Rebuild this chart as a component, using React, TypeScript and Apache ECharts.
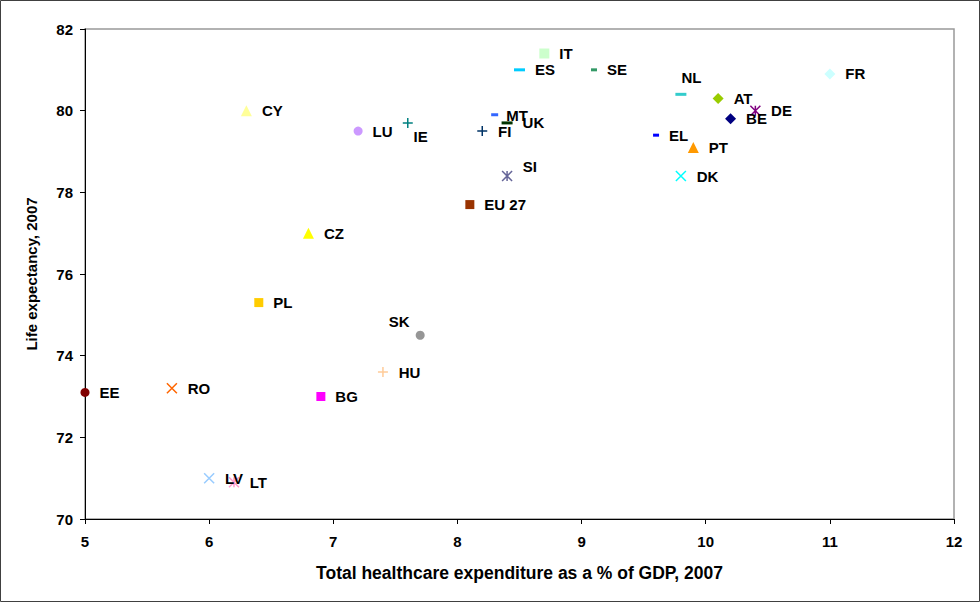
import React, { useEffect, useRef } from 'react';
import * as echarts from 'echarts';

// ---- data ----
const countries = ['IT', 'ES', 'SE', 'NL', 'AT', 'DE', 'BE', 'EL', 'PT', 'DK', 'FR', 'CY', 'LU', 'IE', 'MT', 'UK', 'FI', 'SI', 'EU 27', 'CZ', 'PL', 'SK', 'HU', 'EE', 'RO', 'BG', 'LV', 'LT'];
const healthExpenditure = [8.7, 8.5, 9.1, 9.8, 10.1, 10.4, 10.2, 9.6, 9.9, 9.8, 11.0, 6.3, 7.2, 7.6, 8.3, 8.4, 8.2, 8.4, 8.1, 6.8, 6.4, 7.7, 7.4, 5.0, 5.7, 6.9, 6.0, 6.2];
const lifeExpectancy = [81.4, 81.0, 81.0, 80.4, 80.3, 80.0, 79.8, 79.4, 79.1, 78.4, 80.9, 80.0, 79.5, 79.7, 79.9, 79.7, 79.5, 78.4, 77.7, 77.0, 75.3, 74.5, 73.6, 73.1, 73.2, 73.0, 71.0, 70.9];

const X_MIN = 5, X_MAX = 12, X_STEP = 1;
const Y_MIN = 70, Y_MAX = 82, Y_STEP = 2;

// ---- styles ----
const PLUS = 'path://M5,0L5,10M0,5L10,5';
const CROSS = 'path://M0,0L10,10M10,0L0,10';
const STAR = 'path://M0,0L10,10M10,0L0,10M5,0L5,10';

type MS = { symbol: string; size: number | number[]; color: string; line?: boolean };
const markerStyle: Record<string, MS> = {
  IT: { symbol: 'rect', size: 10, color: '#CCFFCC' },
  ES: { symbol: 'rect', size: [11, 3], color: '#00CCFF' },
  SE: { symbol: 'rect', size: [6, 3], color: '#339966' },
  NL: { symbol: 'rect', size: [11, 3], color: '#33CCCC' },
  AT: { symbol: 'diamond', size: 11, color: '#99CC00' },
  DE: { symbol: STAR, size: 10, color: '#800080', line: true },
  BE: { symbol: 'diamond', size: 11, color: '#000080' },
  EL: { symbol: 'rect', size: [6, 3], color: '#0000FF' },
  PT: { symbol: 'triangle', size: 11, color: '#FF9900' },
  DK: { symbol: CROSS, size: 10, color: '#00FFFF', line: true },
  FR: { symbol: 'diamond', size: 11, color: '#CCFFFF' },
  CY: { symbol: 'triangle', size: 11, color: '#FFFF99' },
  LU: { symbol: 'circle', size: 9, color: '#CC99FF' },
  IE: { symbol: PLUS, size: 10, color: '#008080', line: true },
  MT: { symbol: 'rect', size: [7, 3], color: '#3366FF' },
  UK: { symbol: 'rect', size: [11, 3], color: '#003300' },
  FI: { symbol: PLUS, size: 10, color: '#003366', line: true },
  SI: { symbol: STAR, size: 10, color: '#666699', line: true },
  'EU 27': { symbol: 'rect', size: 9, color: '#993300' },
  CZ: { symbol: 'triangle', size: 11, color: '#FFFF00' },
  PL: { symbol: 'rect', size: 9, color: '#FFCC00' },
  SK: { symbol: 'circle', size: 9, color: '#969696' },
  HU: { symbol: PLUS, size: 10, color: '#FFCC99', line: true },
  EE: { symbol: 'circle', size: 9, color: '#800000' },
  RO: { symbol: CROSS, size: 10, color: '#FF6600', line: true },
  BG: { symbol: 'rect', size: 9, color: '#FF00FF' },
  LV: { symbol: CROSS, size: 10, color: '#99CCFF', line: true },
  LT: { symbol: STAR, size: 10, color: '#FF99CC', line: true },
};

const labelOffsets: Record<string, [number, number]> = {
  NL: [-15, -17],
  IE: [-10, 14],
  SI: [0, -10],
  SK: [-46, -14],
  MT: [-2, 1],
};

const FONT = '"Liberation Sans", Arial, sans-serif';

export default function App() {
  const ref = useRef<HTMLDivElement>(null);

  useEffect(() => {
    if (!ref.current) return;
    const chart = echarts.init(ref.current, undefined, { renderer: 'svg' });

    const series = countries.map((c, i) => {
      const ms = markerStyle[c];
      return {
        type: 'scatter',
        name: c,
        data: [{ name: c, value: [healthExpenditure[i], lifeExpectancy[i]] }],
        symbol: ms.symbol,
        symbolSize: ms.size,
        itemStyle: ms.line
          ? { color: ms.color, borderColor: ms.color, borderWidth: 1.5, opacity: 1 }
          : { color: ms.color, opacity: 1 },
        label: {
          show: true,
          position: 'right',
          distance: 10,
          offset: labelOffsets[c] || [0, 0],
          formatter: '{b}',
          color: '#000',
          fontFamily: FONT,
          fontWeight: 'bold',
          fontSize: 15,
        },
        emphasis: { disabled: true },
      };
    });

    chart.setOption({
      animation: false,
      backgroundColor: '#fff',
      graphic: [
        {
          type: 'rect',
          shape: { x: 0.5, y: 0.5, width: 979, height: 601 },
          style: { fill: 'none', stroke: '#404040', lineWidth: 1 },
          silent: true,
        },
      ],
      grid: {
        left: 85,
        top: 29,
        right: 26,
        bottom: 83,
        show: true,
        borderColor: '#999999',
        borderWidth: 1.5,
        backgroundColor: 'transparent',
      },
      xAxis: {
        type: 'value',
        min: X_MIN,
        max: X_MAX,
        interval: X_STEP,
        name: 'Total healthcare expenditure as a % of GDP, 2007',
        nameLocation: 'middle',
        nameGap: 45,
        nameTextStyle: { fontFamily: FONT, fontWeight: 'bold', fontSize: 17.5, color: '#000' },
        axisLine: { show: true, onZero: false, lineStyle: { color: '#000', width: 1 } },
        axisTick: { show: true, length: 5, lineStyle: { color: '#000' } },
        axisLabel: { fontFamily: FONT, fontWeight: 'bold', fontSize: 15, color: '#000', margin: 15 },
        splitLine: { show: false },
      },
      yAxis: {
        type: 'value',
        min: Y_MIN,
        max: Y_MAX,
        interval: Y_STEP,
        name: 'Life expectancy, 2007',
        nameLocation: 'middle',
        nameGap: 46,
        nameRotate: 90,
        nameTextStyle: { fontFamily: FONT, fontWeight: 'bold', fontSize: 15, color: '#000' },
        axisLine: { show: true, onZero: false, lineStyle: { color: '#000', width: 1 } },
        axisTick: { show: true, length: 5, lineStyle: { color: '#000' } },
        axisLabel: { fontFamily: FONT, fontWeight: 'bold', fontSize: 15, color: '#000', margin: 12 },
        splitLine: { show: false },
      },
      series,
    });

    return () => chart.dispose();
  }, []);

  return (
    <div
      ref={ref}
      style={{ position: 'fixed', left: 0, top: 0, width: 980, height: 602, background: '#fff' }}
    />
  );
}
